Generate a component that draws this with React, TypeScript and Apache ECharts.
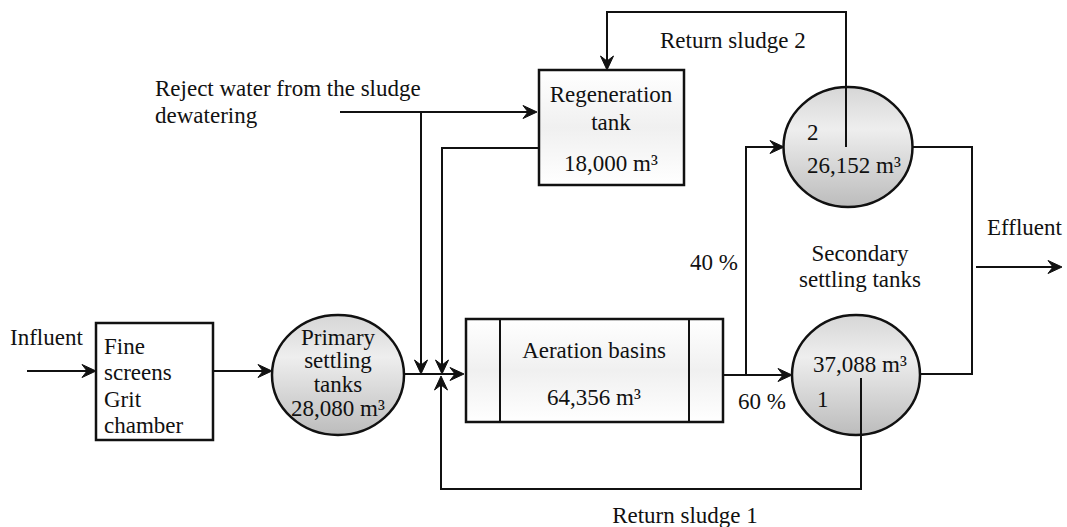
import React, { useEffect, useRef } from "react";
import * as echarts from "echarts";

// ---- content ----
const nodeLabels = ["Fine", "screens", "Grit", "chamber"];
const primaryLabels = ["Primary", "settling", "tanks"];
const regenLabels = ["Regeneration", "tank"];
const aerationLabels = ["Aeration basins"];
const tankNumbers = ["1", "2"];
const volumes = ["28,080", "18,000", "64,356", "26,152", "37,088"]; // m³
const splitShares = ["40 %", "60 %"];
const flowLabels = ["Influent", "Reject water from the sludge", "dewatering", "Return sludge 2", "Return sludge 1", "Effluent"];
const secondaryLabels = ["Secondary", "settling tanks"];

// ---- styles ----
const FONT = "Liberation Serif";
const INK = "#111";
const FS = 23;

function txt(text: string, x: number, y: number, align: "left" | "center" = "left") {
  return {
    type: "text",
    x,
    y,
    style: { text, fill: INK, font: `${FS}px "${FONT}"`, align, verticalAlign: "middle" },
    z: 10,
  };
}

function seg(pts: number[][]) {
  return {
    type: "polyline",
    shape: { points: pts },
    style: { stroke: INK, lineWidth: 2, fill: null },
    z: 5,
  };
}

function arrow(x: number, y: number, dir: "r" | "l" | "u" | "d") {
  const base = [
    [0, 0],
    [-14, -6.5],
    [-9, 0],
    [-14, 6.5],
  ];
  const rot = (p: number[]) => {
    const [a, b] = p;
    if (dir === "r") return [x + a, y + b];
    if (dir === "l") return [x - a, y - b];
    if (dir === "d") return [x - b, y + a];
    return [x + b, y - a];
  };
  return {
    type: "polygon",
    shape: { points: base.map(rot) },
    style: { fill: INK, stroke: INK, lineWidth: 1 },
    z: 6,
  };
}

const circleFill = {
  type: "linear",
  x: 0,
  y: 0,
  x2: 0,
  y2: 1,
  colorStops: [
    { offset: 0, color: "#d6d6d6" },
    { offset: 0.35, color: "#eeeeee" },
    { offset: 1, color: "#bcbcbc" },
  ],
};
const boxFill = {
  type: "linear",
  x: 0,
  y: 0,
  x2: 0,
  y2: 1,
  colorStops: [
    { offset: 0, color: "#ffffff" },
    { offset: 0.5, color: "#f0f0f0" },
    { offset: 1, color: "#ffffff" },
  ],
};

function ell(cx: number, cy: number, rx: number, ry: number) {
  return {
    type: "ellipse",
    shape: { cx, cy, rx, ry },
    style: { fill: circleFill, stroke: INK, lineWidth: 2.5 },
    z: 3,
  };
}
function box(x: number, y: number, width: number, height: number, fill: any = "#fff") {
  return {
    type: "rect",
    shape: { x, y, width, height },
    style: { fill, stroke: INK, lineWidth: 2.5 },
    z: 3,
  };
}

export default function App() {
  const ref = useRef<HTMLDivElement>(null);
  useEffect(() => {
    if (!ref.current) return;
    const chart = echarts.init(ref.current, undefined, { renderer: "svg" });
    const m3 = (v: string) => `${v} m³`;
    const elements: any[] = [
      // boxes and tanks
      box(96, 323, 117, 117),
      ell(338, 375, 66, 60),
      box(539, 70, 145, 115, boxFill),
      box(466, 319, 257, 103, boxFill),
      seg([[500, 319], [500, 422]]),
      seg([[689, 319], [689, 422]]),
      ell(848, 147, 64.5, 60),
      ell(856, 375, 64, 60),

      // flows
      seg([[27, 371], [94, 371]]),
      arrow(96, 371, "r"),
      seg([[213, 371], [270, 371]]),
      arrow(272, 371, "r"),
      seg([[404, 374], [462, 374]]),
      arrow(464, 374, "r"),
      seg([[340, 112], [535, 112]]),
      arrow(537, 112, "r"),
      seg([[421, 112], [421, 372]]),
      arrow(421, 374, "d"),
      seg([[539, 148], [442, 148], [442, 372]]),
      arrow(442, 374, "d"),
      seg([[861, 378], [861, 489], [441, 489], [441, 378]]),
      arrow(441, 376, "u"),
      seg([[723, 375], [790, 375]]),
      arrow(792, 375, "r"),
      seg([[746, 375], [746, 147], [782, 147]]),
      arrow(784, 147, "r"),
      seg([[913, 147], [972, 147], [972, 374], [920, 374]]),
      seg([[976, 267], [1060, 267]]),
      arrow(1062, 267, "r"),
      seg([[846, 147], [846, 12], [607, 12], [607, 68]]),
      arrow(607, 70, "d"),

      // texts
      txt(flowLabels[0], 10, 337),
      ...nodeLabels.map((t, i) => txt(t, 104, 346 + i * 26.5)),
      ...primaryLabels.map((t, i) => txt(t, 338, 337 + i * 23.5, "center")),
      txt(m3(volumes[0]), 338, 408, "center"),
      txt(flowLabels[1], 155, 88),
      txt(flowLabels[2], 155, 115),
      txt(regenLabels[0], 611, 94, "center"),
      txt(regenLabels[1], 611, 122, "center"),
      txt(m3(volumes[1]), 611, 163, "center"),
      txt(aerationLabels[0], 594, 350, "center"),
      txt(m3(volumes[2]), 594, 397, "center"),
      txt(tankNumbers[1], 807, 132),
      txt(m3(volumes[3]), 807, 165),
      txt(m3(volumes[4]), 813, 364),
      txt(tankNumbers[0], 817, 399),
      txt(secondaryLabels[0], 860, 253, "center"),
      txt(secondaryLabels[1], 860, 279, "center"),
      txt(flowLabels[5], 987, 227),
      txt(splitShares[0], 690, 262),
      txt(splitShares[1], 738, 401),
      txt(flowLabels[3], 660, 40),
      txt(flowLabels[4], 685, 515, "center"),
    ];
    chart.setOption({
      animation: false,
      backgroundColor: "#ffffff",
      graphic: { elements },
    });
    return () => chart.dispose();
  }, []);
  return (
    <div
      ref={ref}
      style={{ position: "fixed", left: 0, top: 0, width: 1067, height: 527, background: "#fff" }}
    />
  );
}
